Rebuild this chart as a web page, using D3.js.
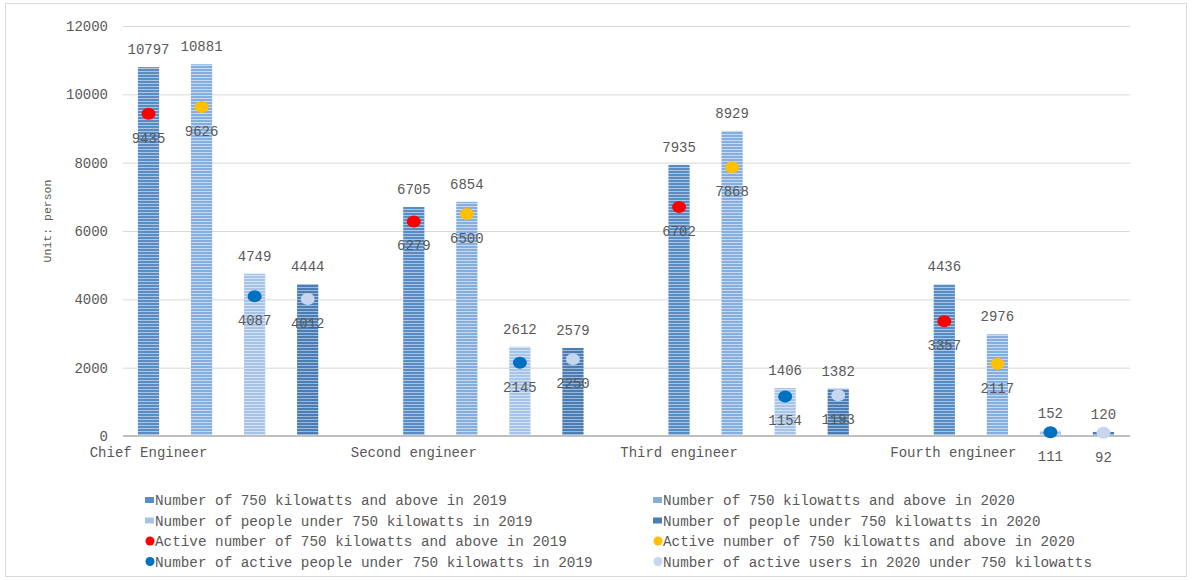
<!DOCTYPE html>
<html>
<head>
<meta charset="utf-8">
<script src="https://cdn.jsdelivr.net/npm/d3@7"></script>
<style>
  body { margin: 0; background: #fff; }
  text { font-family: "Liberation Mono", "DejaVu Sans Mono", monospace; fill: #595959; }
</style>
</head>
<body>
<svg id="chart" width="1192" height="580"></svg>
<script>
// categories and series
var categories = ["Chief Engineer", "Second engineer", "Third engineer", "Fourth engineer"];
var seriesNames = [
  "Number of 750 kilowatts and above in 2019",
  "Number of 750 kilowatts and above in 2020",
  "Number of people under 750 kilowatts in 2019",
  "Number of people under 750 kilowatts in 2020"
];
var dotNames = [
  "Active number of 750 kilowatts and above in 2019",
  "Active number of 750 kilowatts and above in 2020",
  "Number of active people under 750 kilowatts in 2019",
  "Number of active users in 2020 under 750 kilowatts"
];
var above2019 = [10797, 6705, 7935, 4436];
var above2020 = [10881, 6854, 8929, 2976];
var under2019 = [4749, 2612, 1406, 152];
var under2020 = [4444, 2579, 1382, 120];
var activeAbove2019 = [9435, 6279, 6702, 3357];
var activeAbove2020 = [9626, 6500, 7868, 2117];
var activeUnder2019 = [4087, 2145, 1154, 111];
var activeUnder2020 = [4012, 2250, 1193, 92];
var yTicks = [0, 2000, 4000, 6000, 8000, 10000, 12000];

var barSeries = [above2019, above2020, under2019, under2020];
var dotSeries = [activeAbove2019, activeAbove2020, activeUnder2019, activeUnder2020];

// stripe colours for bars [dark, light], dot colours
var barColors = [["#5a8cc4", "#a9c6e6"], ["#86aedd", "#c6daf1"], ["#a7c3e7", "#d3e2f5"], ["#4b7db2", "#9bbadb"]];
var dotColors = ["#ff0000", "#ffc000", "#0070c0", "#c5d6ee"];

var w = 1192, h = 580;
var svg = d3.select("#chart");

// chart border
svg.append("rect")
    .attr("x", 5.5).attr("y", 3.5)
    .attr("width", 1181).attr("height", 573)
    .style("fill", "none").style("stroke", "#d9d9d9");

// striped patterns
var defs = svg.append("defs");
barColors.forEach(function(c, i) {
    var p = defs.append("pattern")
        .attr("id", "stripe" + i)
        .attr("patternUnits", "userSpaceOnUse")
        .attr("width", 4).attr("height", 3);
    p.append("rect").attr("width", 4).attr("height", 3).style("fill", c[0]);
    p.append("rect").attr("y", 2).attr("width", 4).attr("height", 1).style("fill", c[1]);
});

// slots: 4 bars per category, one empty slot between groups
var slots = [];
categories.forEach(function(cat, ci) {
    for (var s = 0; s < 4; s++) slots.push(ci + "-" + s);
    if (ci < categories.length - 1) slots.push("gap" + ci);
});

var xScale = d3.scaleBand().domain(slots).range([122, 1130]).paddingInner(0.6).paddingOuter(0.3);
var yScale = d3.scaleLinear().domain([0, 12000]).range([436, 26]);

// grid
var grid = svg.append("g")
    .attr("class", "grid")
    .attr("transform", "translate(1130,0)")
    .call(d3.axisLeft(yScale).tickValues(yTicks).tickSize(1130 - 123).tickFormat(""));
grid.select(".domain").remove();
grid.selectAll("line").style("stroke", "#d9d9d9").style("stroke-width", 1);

// y axis labels
svg.append("g")
    .selectAll("text")
    .data(yTicks)
    .enter().append("text")
    .attr("x", 108)
    .attr("y", d => yScale(d))
    .attr("dy", "0.35em")
    .attr("text-anchor", "end")
    .style("font-size", "14px")
    .text(d => d);

// bars
barSeries.forEach(function(vals, s) {
    svg.append("g").selectAll("rect")
        .data(vals)
        .enter().append("rect")
        .attr("x", (d, ci) => xScale(ci + "-" + s))
        .attr("y", d => yScale(d))
        .attr("width", xScale.bandwidth())
        .attr("height", d => yScale(0) - yScale(d))
        .style("fill", "url(#stripe" + s + ")");

    svg.append("g").selectAll("text")
        .data(vals)
        .enter().append("text")
        .attr("x", (d, ci) => xScale(ci + "-" + s) + xScale.bandwidth() / 2)
        .attr("y", d => yScale(d) - 18)
        .attr("dy", "0.35em")
        .attr("text-anchor", "middle")
        .style("font-size", "14px")
        .text(d => d);
});

// x axis line
svg.append("line")
    .attr("x1", 123).attr("x2", 1130)
    .attr("y1", yScale(0)).attr("y2", yScale(0))
    .style("stroke", "#bfbfbf").style("stroke-width", 2);

// dots
dotSeries.forEach(function(vals, s) {
    svg.append("g").selectAll("ellipse")
        .data(vals)
        .enter().append("ellipse")
        .attr("cx", (d, ci) => xScale(ci + "-" + s) + xScale.bandwidth() / 2)
        .attr("cy", d => yScale(d))
        .attr("rx", 7).attr("ry", 6)
        .style("fill", dotColors[s]);

    svg.append("g").selectAll("text")
        .data(vals)
        .enter().append("text")
        .attr("x", (d, ci) => xScale(ci + "-" + s) + xScale.bandwidth() / 2)
        .attr("y", d => yScale(d) + 24)
        .attr("dy", "0.35em")
        .attr("text-anchor", "middle")
        .style("font-size", "14px")
        .text(d => d);
});

// category labels, under the first bar of each group
svg.append("g").selectAll("text")
    .data(categories)
    .enter().append("text")
    .attr("x", (d, ci) => xScale(ci + "-0") + xScale.bandwidth() / 2 + (ci == 3 ? 9 : 0))
    .attr("y", 452)
    .attr("dy", "0.35em")
    .attr("text-anchor", "middle")
    .style("font-size", "14px")
    .text(d => d);

// y axis title
svg.append("text")
    .attr("transform", "translate(47,221) rotate(-90)")
    .attr("text-anchor", "middle")
    .attr("dy", "0.35em")
    .style("font-size", "11.5px")
    .text("Unit: person");

// legend, two columns, row-major
var legendOrder = [
    { label: seriesNames[0], type: "bar", idx: 0 }, { label: seriesNames[1], type: "bar", idx: 1 },
    { label: seriesNames[2], type: "bar", idx: 2 }, { label: seriesNames[3], type: "bar", idx: 3 },
    { label: dotNames[0], type: "dot", idx: 0 }, { label: dotNames[1], type: "dot", idx: 1 },
    { label: dotNames[2], type: "dot", idx: 2 }, { label: dotNames[3], type: "dot", idx: 3 }
];
var legend = svg.append("g").attr("class", "legend");
var legendItem = legend.selectAll(".legend-item")
    .data(legendOrder)
    .enter().append("g")
    .attr("class", "legend-item")
    .attr("transform", (d, i) => `translate(${i % 2 == 0 ? 145 : 653}, ${500 + Math.floor(i / 2) * 20.5})`);

legendItem.filter(d => d.type == "bar").append("rect")
    .attr("x", 0).attr("y", -3)
    .attr("width", 9).attr("height", 6)
    .style("fill", d => barColors[d.idx][0]);

legendItem.filter(d => d.type == "dot").append("circle")
    .attr("cx", 5).attr("cy", 0).attr("r", 4.5)
    .style("fill", d => dotColors[d.idx]);

legendItem.append("text")
    .attr("x", 10)
    .attr("y", 0)
    .attr("dy", "0.35em")
    .style("font-size", "14.3px")
    .text(d => d.label);
</script>
</body>
</html>
